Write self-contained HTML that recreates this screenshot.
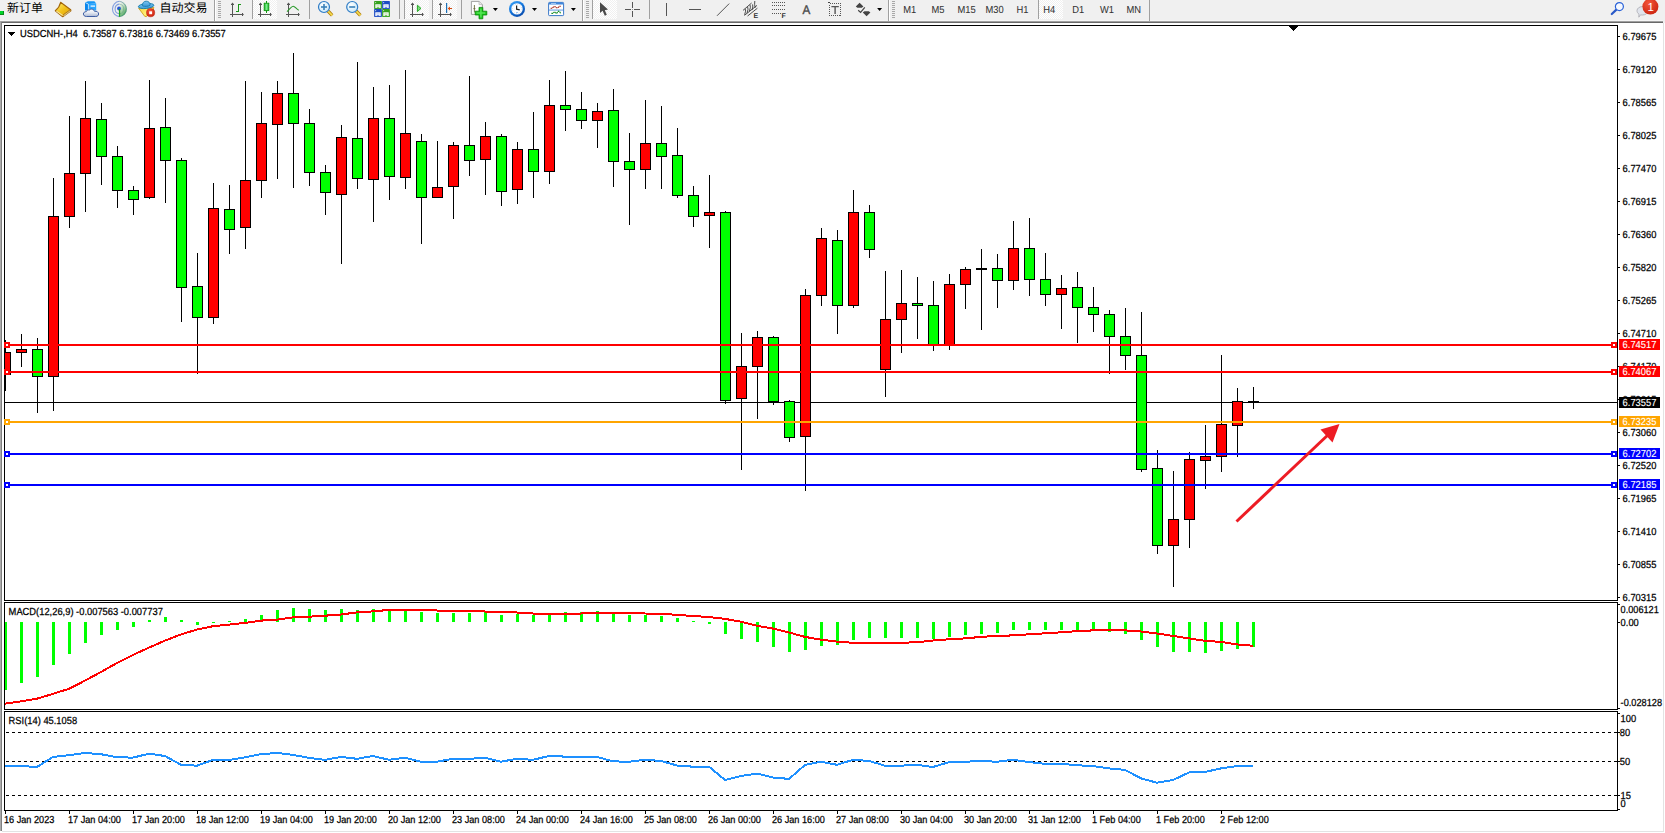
<!DOCTYPE html>
<html lang="zh-CN"><head><meta charset="utf-8"><title>USDCNH-,H4</title>
<style>
html,body{margin:0;padding:0;background:#fff;}
body{width:1665px;height:833px;overflow:hidden;}
svg{display:block;font-family:"Liberation Sans","Noto Sans CJK SC",sans-serif;}
text{white-space:pre;text-rendering:geometricPrecision;}
</style></head><body>
<svg width="1665" height="833" viewBox="0 0 1665 833">
<rect x="0" y="0" width="1665" height="833" fill="#fff"/>
<rect x="0" y="0" width="1665" height="21" fill="#f0f0f0"/>
<rect x="0" y="20" width="1663" height="1" fill="#f6f6f6"/>
<rect x="0" y="21" width="1663" height="1" fill="#a0a0a0"/>
<rect x="0" y="22" width="1663" height="1" fill="#696969"/>
<rect x="1663" y="21" width="2" height="2" fill="#f0f0f0"/>
<rect x="0" y="21" width="1" height="2" fill="#a8a8a8"/>
<rect x="1" y="22" width="1" height="1" fill="#808080"/>
<defs>
<pattern id="chk" width="2" height="2" patternUnits="userSpaceOnUse"><rect width="2" height="2" fill="#fff"/><rect width="1" height="1" fill="#f0f0f0"/><rect x="1" y="1" width="1" height="1" fill="#f0f0f0"/></pattern>
<linearGradient id="gYel" x1="0" y1="0" x2="1" y2="1"><stop offset="0" stop-color="#fff27a"/><stop offset=".5" stop-color="#f2c21a"/><stop offset="1" stop-color="#d99a0a"/></linearGradient>
<linearGradient id="gCloud" x1="0" y1="0" x2="0" y2="1"><stop offset="0" stop-color="#ffffff"/><stop offset=".5" stop-color="#e4e9f2"/><stop offset="1" stop-color="#aab8d4"/></linearGradient>
<linearGradient id="gBlue" x1="0" y1="0" x2="0" y2="1"><stop offset="0" stop-color="#1e9bf5"/><stop offset="1" stop-color="#0a7de0"/></linearGradient>
<radialGradient id="gLens" cx=".4" cy=".35" r=".7"><stop offset="0" stop-color="#ffffff"/><stop offset="1" stop-color="#c4e6f8"/></radialGradient>
<linearGradient id="gGold" x1="0" y1="0" x2="1" y2="0"><stop offset="0" stop-color="#f8e27a"/><stop offset="1" stop-color="#c99a10"/></linearGradient>
<radialGradient id="gRed" cx=".4" cy=".3" r=".8"><stop offset="0" stop-color="#f4553a"/><stop offset="1" stop-color="#c8200c"/></radialGradient>
<linearGradient id="gClock" x1=".2" y1="0" x2=".8" y2="1"><stop offset="0" stop-color="#3aa0f4"/><stop offset=".5" stop-color="#1070d8"/><stop offset="1" stop-color="#0a48a8"/></linearGradient>
<linearGradient id="gGreen" x1="0" y1="0" x2="1" y2="0"><stop offset="0" stop-color="#18b030"/><stop offset=".5" stop-color="#7af08a"/><stop offset="1" stop-color="#18b030"/></linearGradient>
<linearGradient id="gHat" x1="0" y1="0" x2="0" y2="1"><stop offset="0" stop-color="#7cc4f0"/><stop offset="1" stop-color="#3a9ad8"/></linearGradient>
<linearGradient id="gFace" x1="0" y1="0" x2="1" y2="1"><stop offset="0" stop-color="#f6d23a"/><stop offset=".6" stop-color="#fff27a"/><stop offset="1" stop-color="#e8b818"/></linearGradient>
<linearGradient id="gRad" x1="0" y1="0" x2=".6" y2="1"><stop offset="0" stop-color="#e8f2e8" stop-opacity=".2"/><stop offset=".55" stop-color="#8cc890" stop-opacity=".7"/><stop offset="1" stop-color="#2e9a3a" stop-opacity=".95"/></linearGradient>
</defs>
<rect x="0" y="11" width="4" height="4" fill="#00d428"/>
<rect x="0" y="14" width="4" height="1" fill="#0a8a1a"/>
<rect x="3" y="11" width="1" height="4" fill="#0a8a1a"/>
<text x="7" y="12" font-size="12" fill="#000">新订单</text>
<text x="159.5" y="12" font-size="12" fill="#000">自动交易</text>
<path d="M60.6 2.3C60 5.2 58 8.4 55.3 10.7L62.7 16.7L70.9 10.7L70.7 9.7Z" fill="url(#gYel)" stroke="#a3660a" stroke-width="1.1" stroke-linejoin="round"/>
<path d="M63.5 15.7L70.3 10.6" stroke="#d6c07e" stroke-width="1.3" fill="none"/>
<path d="M56.4 11.1L62.7 15.5" stroke="#f9e9a4" stroke-width="1.1" fill="none"/>
<path d="M62.9 15L70.5 9.6" stroke="#a3660a" stroke-width=".7" fill="none"/>
<path d="M85 2.4L88.4 4V10.4H85z" fill="#0a86ec"/><path d="M85 2.4L88 1.2H94.4L96.2 3.6 88.4 4z" fill="#1596f6"/><path d="M88.4 4L96.2 3.6V10.4H88.4z" fill="#2aa6ff"/>
<path d="M85.4 2.7L88.4 4.1V10" fill="none" stroke="#d4ecff" stroke-width=".7"/>
<rect x="90.6" y="5.5" width="4.4" height="1.2" fill="#fff"/>
<path d="M86.4 16.5C84.4 16.5 83.4 15.2 83.4 14C83.4 12.6 84.6 11.6 86.2 11.7C86.6 10.4 88 9.6 89.4 10C90.2 9 91.6 8.8 92.8 9.4C93.8 9.8 94.4 10.6 94.6 11.4C96.6 10.8 98.6 12 98.6 14C98.6 15.4 97.6 16.5 95.8 16.5z" fill="url(#gCloud)" stroke="#3f5fa4" stroke-width="1"/>
<g fill="none"><path d="M119.4 9V16.8A7.9 7.9 0 0 0 126.9 9A7.9 7.9 0 0 0 121 1.4z" fill="url(#gRad)" stroke="none"/><path d="M119.3 16.6A7.7 7.7 0 0 1 119.3 1.3" stroke="#5f86da" stroke-width="1.1" opacity=".75"/><path d="M119.3 13.8A4.9 4.9 0 0 1 119.3 4.1" stroke="#5f86da" stroke-width="1.1" opacity=".75"/><path d="M119.3 1.3A7.7 7.7 0 0 1 119.6 16.6" stroke="#3f7f8f" stroke-width="1" opacity=".55"/><path d="M119.3 4.1A4.9 4.9 0 0 1 119.6 13.8" stroke="#5f9a8a" stroke-width="1" opacity=".5"/></g>
<circle cx="119" cy="8.5" r="1.9" fill="#2a5ad0"/><rect x="118.9" y="9" width="1.3" height="7.8" fill="#1ea21e"/>
<path d="M138.6 8.2L153.8 7.4 153.2 10 146.4 16.6 144.8 16.4z" fill="url(#gFace)" stroke="#c8960e" stroke-width=".8" stroke-linejoin="round"/>
<ellipse cx="146.1" cy="6" rx="7.8" ry="2.5" transform="rotate(-6 146.1 6)" fill="url(#gHat)" stroke="#1a7eae" stroke-width=".9"/>
<path d="M142.4 5.8C142.4 2.8 143.8 1.2 146.2 1.2C148.6 1.2 150 2.6 150.2 5.2C148 6.6 144.6 6.8 142.4 5.8z" fill="url(#gHat)" stroke="#1a7eae" stroke-width=".9"/>
<circle cx="150.6" cy="12.7" r="4.1" fill="url(#gRed)" stroke="#b81c0a" stroke-width=".5"/><rect x="149.2" y="11.3" width="2.9" height="2.9" fill="#fff"/>
<rect x="214" y="0" width="1" height="21" fill="#a0a0a0" shape-rendering="crispEdges"/>
<rect x="215" y="0" width="1" height="21" fill="#ffffff" shape-rendering="crispEdges"/>
<rect x="218" y="1" width="3" height="1" fill="#a8a8a8" shape-rendering="crispEdges"/>
<rect x="218" y="3" width="3" height="1" fill="#a8a8a8" shape-rendering="crispEdges"/>
<rect x="218" y="5" width="3" height="1" fill="#a8a8a8" shape-rendering="crispEdges"/>
<rect x="218" y="7" width="3" height="1" fill="#a8a8a8" shape-rendering="crispEdges"/>
<rect x="218" y="9" width="3" height="1" fill="#a8a8a8" shape-rendering="crispEdges"/>
<rect x="218" y="11" width="3" height="1" fill="#a8a8a8" shape-rendering="crispEdges"/>
<rect x="218" y="13" width="3" height="1" fill="#a8a8a8" shape-rendering="crispEdges"/>
<rect x="218" y="15" width="3" height="1" fill="#a8a8a8" shape-rendering="crispEdges"/>
<rect x="218" y="17" width="3" height="1" fill="#a8a8a8" shape-rendering="crispEdges"/>
<g fill="#555" shape-rendering="crispEdges"><rect x="232" y="4" width="1" height="13"/><rect x="231" y="4" width="3" height="1"/><rect x="230" y="14" width="13" height="1"/><rect x="242" y="13" width="1" height="3"/></g><path d="M232.5 2.6l1.6 2h-3.2z M244 14.5l-2 1.6v-3.2z" fill="#555"/>
<path d="M236 11.5h2.5V4.5h2.5" fill="none" stroke="#1a961a" stroke-width="1.2" shape-rendering="crispEdges"/>
<rect x="252" y="0" width="1" height="19" fill="#a0a0a0" shape-rendering="crispEdges"/>
<rect x="253" y="0" width="24" height="19" fill="url(#chk)" shape-rendering="crispEdges"/>
<g fill="#555" shape-rendering="crispEdges"><rect x="260" y="4" width="1" height="13"/><rect x="259" y="4" width="3" height="1"/><rect x="258" y="14" width="13" height="1"/><rect x="270" y="13" width="1" height="3"/></g><path d="M260.5 2.6l1.6 2h-3.2z M272 14.5l-2 1.6v-3.2z" fill="#555"/>
<rect x="266" y="1" width="1" height="12" fill="#129a12" shape-rendering="crispEdges"/><rect x="264.2" y="3.2" width="4.6" height="7.4" fill="url(#gGreen)" stroke="#129a12" stroke-width=".9"/>
<g fill="#555" shape-rendering="crispEdges"><rect x="288" y="4" width="1" height="13"/><rect x="287" y="4" width="3" height="1"/><rect x="286" y="14" width="13" height="1"/><rect x="298" y="13" width="1" height="3"/></g><path d="M288.5 2.6l1.6 2h-3.2z M300 14.5l-2 1.6v-3.2z" fill="#555"/>
<path d="M287 11.6C290 9 291.4 6.2 293.2 6.2C295 6.2 296.4 9.4 298.8 10.2" fill="none" stroke="#2a9a2a" stroke-width="1.1"/>
<rect x="309" y="0" width="1" height="19" fill="#a0a0a0" shape-rendering="crispEdges"/>
<path d="M328 11L332.2 15.4" stroke="#b07a08" stroke-width="3.3" stroke-linecap="butt"/><path d="M328 11L332.2 15.4" stroke="#f4dc50" stroke-width="1.8" stroke-linecap="butt"/>
<circle cx="324" cy="7" r="5.5" fill="url(#gLens)" stroke="#2f7cc6" stroke-width="1.2"/>
<rect x="321" y="6.2" width="6" height="1.6" fill="#3a80b8"/>
<rect x="323.2" y="4" width="1.6" height="6" fill="#3a80b8"/>
<path d="M356.2 11L360.4 15.4" stroke="#b07a08" stroke-width="3.3" stroke-linecap="butt"/><path d="M356.2 11L360.4 15.4" stroke="#f4dc50" stroke-width="1.8" stroke-linecap="butt"/>
<circle cx="352.2" cy="7" r="5.5" fill="url(#gLens)" stroke="#2f7cc6" stroke-width="1.2"/>
<rect x="349.2" y="6.2" width="6" height="1.6" fill="#3a80b8"/>
<rect x="374.1" y="1.1" width="7.8" height="7.8" rx=".6" fill="#34a01c"/><rect x="375.3" y="4.300000000000001" width="5.4" height="3.8" fill="#fff"/><rect x="376.3" y="5.5" width="3.4" height=".9" fill="#a8d890"/><rect x="376.70000000000005" y="7.4" width="2.6" height=".8" fill="#34a01c"/><rect x="375.20000000000005" y="2.2" width=".9" height=".9" fill="#eef8ee"/>
<rect x="382.1" y="1.1" width="7.8" height="7.8" rx=".6" fill="#1c4cc4"/><rect x="383.3" y="4.300000000000001" width="5.4" height="3.8" fill="#fff"/><rect x="384.3" y="5.5" width="3.4" height=".9" fill="#9cb4f0"/><rect x="384.70000000000005" y="7.4" width="2.6" height=".8" fill="#1c4cc4"/><rect x="383.20000000000005" y="2.2" width=".9" height=".9" fill="#eef8ee"/>
<rect x="374.1" y="9.1" width="7.8" height="7.8" rx=".6" fill="#1c4cc4"/><rect x="375.3" y="12.3" width="5.4" height="3.8" fill="#fff"/><rect x="376.3" y="13.5" width="3.4" height=".9" fill="#9cb4f0"/><rect x="376.70000000000005" y="15.399999999999999" width="2.6" height=".8" fill="#1c4cc4"/><rect x="375.20000000000005" y="10.2" width=".9" height=".9" fill="#eef8ee"/>
<rect x="382.1" y="9.1" width="7.8" height="7.8" rx=".6" fill="#34a01c"/><rect x="383.3" y="12.3" width="5.4" height="3.8" fill="#fff"/><rect x="384.3" y="13.5" width="3.4" height=".9" fill="#a8d890"/><rect x="384.70000000000005" y="15.399999999999999" width="2.6" height=".8" fill="#34a01c"/><rect x="383.20000000000005" y="10.2" width=".9" height=".9" fill="#eef8ee"/>
<rect x="399" y="0" width="1" height="19" fill="#a0a0a0" shape-rendering="crispEdges"/>
<rect x="404" y="0" width="1" height="19" fill="#a0a0a0" shape-rendering="crispEdges"/>
<rect x="405" y="0" width="24" height="19" fill="url(#chk)" shape-rendering="crispEdges"/>
<g fill="#555" shape-rendering="crispEdges"><rect x="412" y="4" width="1" height="13"/><rect x="411" y="4" width="3" height="1"/><rect x="410" y="14" width="13" height="1"/><rect x="422" y="13" width="1" height="3"/></g><path d="M412.5 2.6l1.6 2h-3.2z M424 14.5l-2 1.6v-3.2z" fill="#555"/>
<path d="M417.4 5.2L421 8.4 417.4 11.6z" fill="#7ae07a" stroke="#18a018" stroke-width=".9"/>
<rect x="432" y="0" width="1" height="19" fill="#a0a0a0" shape-rendering="crispEdges"/>
<rect x="433" y="0" width="24" height="19" fill="url(#chk)" shape-rendering="crispEdges"/>
<g fill="#555" shape-rendering="crispEdges"><rect x="440" y="4" width="1" height="13"/><rect x="439" y="4" width="3" height="1"/><rect x="438" y="14" width="13" height="1"/><rect x="450" y="13" width="1" height="3"/></g><path d="M440.5 2.6l1.6 2h-3.2z M452 14.5l-2 1.6v-3.2z" fill="#555"/>
<rect x="446" y="3" width="1.2" height="10" fill="#1a70b8"/><path d="M448 8.5h4" stroke="#d04a10" stroke-width="1" fill="none"/><path d="M447.6 8.5l2.4-2v4z" fill="#e0500f"/>
<rect x="461" y="0" width="1" height="19" fill="#a0a0a0" shape-rendering="crispEdges"/>
<path d="M471.4 1.4H479L482.4 4.6V14.4H471.4z" fill="#fdfdfd" stroke="#8c8c8c" stroke-width=".8"/><path d="M479 1.4V4.6H482.4" fill="#e8e8e8" stroke="#a8a8a8" stroke-width=".6"/>
<path d="M474.4 5v7.4M473.4 8.6h2" stroke="#6a6a3a" stroke-width=".9" fill="none"/>
<path d="M479 7.4h3.8v3.8h4v3.8h-4v3.8H479V15h-3.8v-3.8H479z" fill="#14c014" stroke="#0a8a0a" stroke-width=".8"/>
<path d="M480.9 8.6v9M476.4 13.1h9" stroke="#62ec62" stroke-width="1.5" fill="none" opacity=".85"/>
<path d="M492.9 8h5l-2.5 3z" fill="#000"/>
<circle cx="517" cy="8.9" r="8" fill="url(#gClock)"/><circle cx="517" cy="8.9" r="5.7" fill="#fbfdff"/>
<circle cx="517" cy="8.9" r="4.7" fill="none" stroke="#b8c0c8" stroke-width="1" stroke-dasharray=".5 1.96"/>
<path d="M516.6 5.4V9.2L519.8 9.8" fill="none" stroke="#222" stroke-width="1.2"/>
<rect x="516" y="12.2" width="2" height=".8" fill="#8ab8f0"/>
<path d="M532.0 8h5l-2.5 3z" fill="#000"/>
<rect x="548.6" y="2.4" width="15" height="13.2" rx=".8" fill="#fff" stroke="#3a78c8" stroke-width="1"/><rect x="549" y="2.6" width="14.2" height="1.9" fill="#3f86dc"/><rect x="551" y="3" width="5" height=".7" fill="#c8e0fa"/><rect x="549" y="9.6" width="14.2" height=".9" fill="#4a8ee0"/>
<path d="M550.6 8.2h1.6l1.4-1.4h1.6l1.2 1h1.6l1.4-1.6h1.4" fill="none" stroke="#a41c0c" stroke-width="1.1" stroke-dasharray="1.6 .5"/>
<path d="M551.4 13.4h1.4l1.2-1h1.4l1 1.2 2-2.4 1.2.4 1.2 2" fill="none" stroke="#128a22" stroke-width="1.1" stroke-dasharray="1.6 .5"/>
<path d="M570.9 8h5l-2.5 3z" fill="#000"/>
<rect x="582" y="0" width="1" height="21" fill="#a0a0a0" shape-rendering="crispEdges"/>
<rect x="583" y="0" width="1" height="21" fill="#ffffff" shape-rendering="crispEdges"/>
<rect x="586" y="1" width="3" height="1" fill="#a8a8a8" shape-rendering="crispEdges"/>
<rect x="586" y="3" width="3" height="1" fill="#a8a8a8" shape-rendering="crispEdges"/>
<rect x="586" y="5" width="3" height="1" fill="#a8a8a8" shape-rendering="crispEdges"/>
<rect x="586" y="7" width="3" height="1" fill="#a8a8a8" shape-rendering="crispEdges"/>
<rect x="586" y="9" width="3" height="1" fill="#a8a8a8" shape-rendering="crispEdges"/>
<rect x="586" y="11" width="3" height="1" fill="#a8a8a8" shape-rendering="crispEdges"/>
<rect x="586" y="13" width="3" height="1" fill="#a8a8a8" shape-rendering="crispEdges"/>
<rect x="586" y="15" width="3" height="1" fill="#a8a8a8" shape-rendering="crispEdges"/>
<rect x="586" y="17" width="3" height="1" fill="#a8a8a8" shape-rendering="crispEdges"/>
<rect x="592" y="0" width="1" height="19" fill="#a0a0a0" shape-rendering="crispEdges"/>
<rect x="593" y="0" width="24" height="19" fill="url(#chk)" shape-rendering="crispEdges"/>
<path d="M600 2.2V13L602.6 10.8 604.8 15.8 606.8 14.8 604.8 10.2 608 9.6z" fill="#4a4a4a"/>
<g fill="#555" shape-rendering="crispEdges"><rect x="632" y="2" width="1" height="6"/><rect x="632" y="11" width="1" height="6"/><rect x="625" y="9" width="6" height="1"/><rect x="634" y="9" width="6" height="1"/><rect x="632" y="9" width="1" height="1" fill="#999"/></g>
<rect x="649" y="0" width="1" height="19" fill="#a0a0a0" shape-rendering="crispEdges"/>
<rect x="666" y="3" width="1" height="13" fill="#555" shape-rendering="crispEdges"/>
<rect x="689" y="9" width="12" height="1" fill="#555" shape-rendering="crispEdges"/>
<path d="M717 15.8L729.2 3.6" stroke="#555" stroke-width="1" fill="none"/>
<g stroke="#3c3c3c" stroke-width=".9" fill="none"><path d="M743 10.4L751.6 3M744.4 15.4L757 5.4M747.6 16L757.4 8.2"/><path d="M745.2 8.8l.4 2.4-1 3.6M747.6 6.8l.4 2.6-1 3.8M750 4.8l.4 2.6-1 3.8M752.6 4.4l.2 2.6-.8 3M754.8 1l-.2 3.4.6 3.4"/></g>
<text x="753.6" y="18" font-size="7" font-weight="bold" fill="#333">E</text>
<g stroke="#555" stroke-width="1" stroke-dasharray="1 1" shape-rendering="crispEdges"><path d="M772 2.5h13M772 5.5h13M772 9.5h13M772 13.5h9"/></g>
<text x="781.6" y="18" font-size="7" font-weight="bold" fill="#333">F</text>
<text x="802.6" y="14" font-size="12.4" fill="#4a4a4a" stroke="#4a4a4a" stroke-width=".4" transform="translate(802.6 0) scale(.94 1) translate(-802.6 0)">A</text>
<rect x="829.5" y="3.5" width="11" height="12" fill="none" stroke="#555" stroke-width="1" stroke-dasharray="1 1" shape-rendering="crispEdges"/><path d="M831.4 6.6h7.4M835.1 6.6v7.4" stroke="#555" stroke-width="1.4" fill="none"/><rect x="828" y="2" width="2" height="1" fill="#444"/>
<path d="M859.6 2.8L863.4 6.6 861.8 7.8H857.4L855.8 6.6z M866.6 16.2L862.8 12.4 864.4 11.2H868.8L870.4 12.4z" fill="#444"/><path d="M858.2 10.2L860.6 12.4 864.8 7.4" fill="none" stroke="#444" stroke-width="1.2"/>
<path d="M877.1 8h5l-2.5 3z" fill="#000"/>
<rect x="888" y="0" width="1" height="21" fill="#a0a0a0" shape-rendering="crispEdges"/>
<rect x="889" y="0" width="1" height="21" fill="#ffffff" shape-rendering="crispEdges"/>
<rect x="892" y="1" width="3" height="1" fill="#a8a8a8" shape-rendering="crispEdges"/>
<rect x="892" y="3" width="3" height="1" fill="#a8a8a8" shape-rendering="crispEdges"/>
<rect x="892" y="5" width="3" height="1" fill="#a8a8a8" shape-rendering="crispEdges"/>
<rect x="892" y="7" width="3" height="1" fill="#a8a8a8" shape-rendering="crispEdges"/>
<rect x="892" y="9" width="3" height="1" fill="#a8a8a8" shape-rendering="crispEdges"/>
<rect x="892" y="11" width="3" height="1" fill="#a8a8a8" shape-rendering="crispEdges"/>
<rect x="892" y="13" width="3" height="1" fill="#a8a8a8" shape-rendering="crispEdges"/>
<rect x="892" y="15" width="3" height="1" fill="#a8a8a8" shape-rendering="crispEdges"/>
<rect x="892" y="17" width="3" height="1" fill="#a8a8a8" shape-rendering="crispEdges"/>
<rect x="1038" y="0" width="1" height="19" fill="#a0a0a0" shape-rendering="crispEdges"/>
<rect x="1039" y="0" width="24" height="19" fill="url(#chk)" shape-rendering="crispEdges"/>
<rect x="1149" y="0" width="1" height="21" fill="#a0a0a0" shape-rendering="crispEdges"/>
<text transform="translate(903.2,13) scale(0.917,1)" font-size="10.2" fill="#333" stroke="#333" stroke-width="0.05" stroke-linejoin="round">M1</text>
<text transform="translate(931.4,13) scale(0.917,1)" font-size="10.2" fill="#333" stroke="#333" stroke-width="0.05" stroke-linejoin="round">M5</text>
<text transform="translate(957.4,13) scale(0.917,1)" font-size="10.2" fill="#333" stroke="#333" stroke-width="0.05" stroke-linejoin="round">M15</text>
<text transform="translate(985.4,13) scale(0.917,1)" font-size="10.2" fill="#333" stroke="#333" stroke-width="0.05" stroke-linejoin="round">M30</text>
<text transform="translate(1016.4,13) scale(0.917,1)" font-size="10.2" fill="#333" stroke="#333" stroke-width="0.05" stroke-linejoin="round">H1</text>
<text transform="translate(1043.3,13) scale(0.917,1)" font-size="10.2" fill="#333" stroke="#333" stroke-width="0.05" stroke-linejoin="round">H4</text>
<text transform="translate(1072.2,13) scale(0.917,1)" font-size="10.2" fill="#333" stroke="#333" stroke-width="0.05" stroke-linejoin="round">D1</text>
<text transform="translate(1100,13) scale(0.917,1)" font-size="10.2" fill="#333" stroke="#333" stroke-width="0.05" stroke-linejoin="round">W1</text>
<text transform="translate(1126.5,13) scale(0.917,1)" font-size="10.2" fill="#333" stroke="#333" stroke-width="0.05" stroke-linejoin="round">MN</text>
<path d="M1616.4 9.6L1611.8 14" stroke="#2a5ac8" stroke-width="2.2" stroke-linecap="round"/><circle cx="1619.4" cy="6.6" r="4" fill="#f4f8ff" stroke="#2a62d8" stroke-width="1.2"/>
<path d="M1637 10.6C1637 8.4 1639.4 6.6 1642.4 6.6C1645.6 6.6 1648 8.4 1648 10.8C1648 13.2 1645.6 15 1642.4 15C1641.8 15 1641.2 15 1640.6 14.8L1638.8 17.2 1639 14.2C1637.8 13.4 1637 12.2 1637 10.6z" fill="#e0e4ec" stroke="#a8a8b0" stroke-width=".8"/>
<circle cx="1650.4" cy="6.6" r="8" fill="url(#gRed)"/>
<text x="1647.4" y="11" font-size="11.5" fill="#fff">1</text>
<rect x="1663" y="0" width="2" height="21" fill="#f0f0f0"/>
<rect x="0" y="23" width="1" height="808" fill="#ababab"/>
<rect x="1" y="23" width="1" height="808" fill="#808080"/>
<rect x="1663" y="23" width="1" height="808" fill="#e3e3e3"/>
<rect x="2" y="831" width="1662" height="1" fill="#e3e3e3"/>
<g shape-rendering="crispEdges">
<rect x="5" y="402" width="1612" height="1" fill="#000"/>
<rect x="5" y="340" width="1" height="51" fill="#000"/>
<rect x="0" y="352" width="11" height="23" fill="#000"/>
<rect x="1" y="353" width="9" height="21" fill="#ff0000"/>
<rect x="21" y="334" width="1" height="33" fill="#000"/>
<rect x="16" y="349" width="11" height="4" fill="#000"/>
<rect x="17" y="350" width="9" height="2" fill="#ff0000"/>
<rect x="37" y="338" width="1" height="75" fill="#000"/>
<rect x="32" y="349" width="11" height="28" fill="#000"/>
<rect x="33" y="350" width="9" height="26" fill="#00ff00"/>
<rect x="53" y="178" width="1" height="233" fill="#000"/>
<rect x="48" y="216" width="11" height="161" fill="#000"/>
<rect x="49" y="217" width="9" height="159" fill="#ff0000"/>
<rect x="69" y="116" width="1" height="112" fill="#000"/>
<rect x="64" y="173" width="11" height="44" fill="#000"/>
<rect x="65" y="174" width="9" height="42" fill="#ff0000"/>
<rect x="85" y="81" width="1" height="131" fill="#000"/>
<rect x="80" y="118" width="11" height="56" fill="#000"/>
<rect x="81" y="119" width="9" height="54" fill="#ff0000"/>
<rect x="101" y="103" width="1" height="82" fill="#000"/>
<rect x="96" y="119" width="11" height="38" fill="#000"/>
<rect x="97" y="120" width="9" height="36" fill="#00ff00"/>
<rect x="117" y="146" width="1" height="62" fill="#000"/>
<rect x="112" y="156" width="11" height="35" fill="#000"/>
<rect x="113" y="157" width="9" height="33" fill="#00ff00"/>
<rect x="133" y="186" width="1" height="29" fill="#000"/>
<rect x="128" y="190" width="11" height="10" fill="#000"/>
<rect x="129" y="191" width="9" height="8" fill="#00ff00"/>
<rect x="149" y="80" width="1" height="119" fill="#000"/>
<rect x="144" y="128" width="11" height="70" fill="#000"/>
<rect x="145" y="129" width="9" height="68" fill="#ff0000"/>
<rect x="165" y="98" width="1" height="105" fill="#000"/>
<rect x="160" y="127" width="11" height="34" fill="#000"/>
<rect x="161" y="128" width="9" height="32" fill="#00ff00"/>
<rect x="181" y="158" width="1" height="164" fill="#000"/>
<rect x="176" y="160" width="11" height="128" fill="#000"/>
<rect x="177" y="161" width="9" height="126" fill="#00ff00"/>
<rect x="197" y="253" width="1" height="121" fill="#000"/>
<rect x="192" y="286" width="11" height="32" fill="#000"/>
<rect x="193" y="287" width="9" height="30" fill="#00ff00"/>
<rect x="213" y="183" width="1" height="141" fill="#000"/>
<rect x="208" y="208" width="11" height="110" fill="#000"/>
<rect x="209" y="209" width="9" height="108" fill="#ff0000"/>
<rect x="229" y="185" width="1" height="69" fill="#000"/>
<rect x="224" y="209" width="11" height="21" fill="#000"/>
<rect x="225" y="210" width="9" height="19" fill="#00ff00"/>
<rect x="245" y="81" width="1" height="168" fill="#000"/>
<rect x="240" y="180" width="11" height="48" fill="#000"/>
<rect x="241" y="181" width="9" height="46" fill="#ff0000"/>
<rect x="261" y="92" width="1" height="106" fill="#000"/>
<rect x="256" y="123" width="11" height="58" fill="#000"/>
<rect x="257" y="124" width="9" height="56" fill="#ff0000"/>
<rect x="277" y="81" width="1" height="98" fill="#000"/>
<rect x="272" y="93" width="11" height="32" fill="#000"/>
<rect x="273" y="94" width="9" height="30" fill="#ff0000"/>
<rect x="293" y="53" width="1" height="135" fill="#000"/>
<rect x="288" y="93" width="11" height="31" fill="#000"/>
<rect x="289" y="94" width="9" height="29" fill="#00ff00"/>
<rect x="309" y="109" width="1" height="77" fill="#000"/>
<rect x="304" y="123" width="11" height="50" fill="#000"/>
<rect x="305" y="124" width="9" height="48" fill="#00ff00"/>
<rect x="325" y="165" width="1" height="50" fill="#000"/>
<rect x="320" y="172" width="11" height="21" fill="#000"/>
<rect x="321" y="173" width="9" height="19" fill="#00ff00"/>
<rect x="341" y="125" width="1" height="139" fill="#000"/>
<rect x="336" y="137" width="11" height="58" fill="#000"/>
<rect x="337" y="138" width="9" height="56" fill="#ff0000"/>
<rect x="357" y="62" width="1" height="127" fill="#000"/>
<rect x="352" y="138" width="11" height="41" fill="#000"/>
<rect x="353" y="139" width="9" height="39" fill="#00ff00"/>
<rect x="373" y="87" width="1" height="135" fill="#000"/>
<rect x="368" y="118" width="11" height="62" fill="#000"/>
<rect x="369" y="119" width="9" height="60" fill="#ff0000"/>
<rect x="389" y="85" width="1" height="115" fill="#000"/>
<rect x="384" y="118" width="11" height="59" fill="#000"/>
<rect x="385" y="119" width="9" height="57" fill="#00ff00"/>
<rect x="405" y="70" width="1" height="119" fill="#000"/>
<rect x="400" y="133" width="11" height="45" fill="#000"/>
<rect x="401" y="134" width="9" height="43" fill="#ff0000"/>
<rect x="421" y="134" width="1" height="110" fill="#000"/>
<rect x="416" y="141" width="11" height="57" fill="#000"/>
<rect x="417" y="142" width="9" height="55" fill="#00ff00"/>
<rect x="437" y="141" width="1" height="57" fill="#000"/>
<rect x="432" y="187" width="11" height="11" fill="#000"/>
<rect x="433" y="188" width="9" height="9" fill="#ff0000"/>
<rect x="453" y="142" width="1" height="77" fill="#000"/>
<rect x="448" y="145" width="11" height="42" fill="#000"/>
<rect x="449" y="146" width="9" height="40" fill="#ff0000"/>
<rect x="469" y="76" width="1" height="100" fill="#000"/>
<rect x="464" y="145" width="11" height="16" fill="#000"/>
<rect x="465" y="146" width="9" height="14" fill="#00ff00"/>
<rect x="485" y="122" width="1" height="73" fill="#000"/>
<rect x="480" y="136" width="11" height="24" fill="#000"/>
<rect x="481" y="137" width="9" height="22" fill="#ff0000"/>
<rect x="501" y="134" width="1" height="72" fill="#000"/>
<rect x="496" y="136" width="11" height="56" fill="#000"/>
<rect x="497" y="137" width="9" height="54" fill="#00ff00"/>
<rect x="517" y="142" width="1" height="62" fill="#000"/>
<rect x="512" y="149" width="11" height="41" fill="#000"/>
<rect x="513" y="150" width="9" height="39" fill="#ff0000"/>
<rect x="533" y="112" width="1" height="86" fill="#000"/>
<rect x="528" y="149" width="11" height="23" fill="#000"/>
<rect x="529" y="150" width="9" height="21" fill="#00ff00"/>
<rect x="549" y="80" width="1" height="104" fill="#000"/>
<rect x="544" y="105" width="11" height="67" fill="#000"/>
<rect x="545" y="106" width="9" height="65" fill="#ff0000"/>
<rect x="565" y="71" width="1" height="60" fill="#000"/>
<rect x="560" y="105" width="11" height="5" fill="#000"/>
<rect x="561" y="106" width="9" height="3" fill="#00ff00"/>
<rect x="581" y="92" width="1" height="37" fill="#000"/>
<rect x="576" y="109" width="11" height="12" fill="#000"/>
<rect x="577" y="110" width="9" height="10" fill="#00ff00"/>
<rect x="597" y="103" width="1" height="45" fill="#000"/>
<rect x="592" y="111" width="11" height="10" fill="#000"/>
<rect x="593" y="112" width="9" height="8" fill="#ff0000"/>
<rect x="613" y="89" width="1" height="98" fill="#000"/>
<rect x="608" y="110" width="11" height="52" fill="#000"/>
<rect x="609" y="111" width="9" height="50" fill="#00ff00"/>
<rect x="629" y="133" width="1" height="92" fill="#000"/>
<rect x="624" y="161" width="11" height="9" fill="#000"/>
<rect x="625" y="162" width="9" height="7" fill="#00ff00"/>
<rect x="645" y="100" width="1" height="89" fill="#000"/>
<rect x="640" y="143" width="11" height="27" fill="#000"/>
<rect x="641" y="144" width="9" height="25" fill="#ff0000"/>
<rect x="661" y="106" width="1" height="83" fill="#000"/>
<rect x="656" y="143" width="11" height="14" fill="#000"/>
<rect x="657" y="144" width="9" height="12" fill="#00ff00"/>
<rect x="677" y="128" width="1" height="70" fill="#000"/>
<rect x="672" y="155" width="11" height="41" fill="#000"/>
<rect x="673" y="156" width="9" height="39" fill="#00ff00"/>
<rect x="693" y="186" width="1" height="41" fill="#000"/>
<rect x="688" y="195" width="11" height="22" fill="#000"/>
<rect x="689" y="196" width="9" height="20" fill="#00ff00"/>
<rect x="709" y="175" width="1" height="73" fill="#000"/>
<rect x="704" y="212" width="11" height="4" fill="#000"/>
<rect x="705" y="213" width="9" height="2" fill="#ff0000"/>
<rect x="725" y="211" width="1" height="193" fill="#000"/>
<rect x="720" y="212" width="11" height="189" fill="#000"/>
<rect x="721" y="213" width="9" height="187" fill="#00ff00"/>
<rect x="741" y="333" width="1" height="137" fill="#000"/>
<rect x="736" y="366" width="11" height="33" fill="#000"/>
<rect x="737" y="367" width="9" height="31" fill="#ff0000"/>
<rect x="757" y="331" width="1" height="88" fill="#000"/>
<rect x="752" y="337" width="11" height="30" fill="#000"/>
<rect x="753" y="338" width="9" height="28" fill="#ff0000"/>
<rect x="773" y="336" width="1" height="69" fill="#000"/>
<rect x="768" y="337" width="11" height="65" fill="#000"/>
<rect x="769" y="338" width="9" height="63" fill="#00ff00"/>
<rect x="789" y="400" width="1" height="42" fill="#000"/>
<rect x="784" y="401" width="11" height="37" fill="#000"/>
<rect x="785" y="402" width="9" height="35" fill="#00ff00"/>
<rect x="805" y="289" width="1" height="202" fill="#000"/>
<rect x="800" y="295" width="11" height="142" fill="#000"/>
<rect x="801" y="296" width="9" height="140" fill="#ff0000"/>
<rect x="821" y="228" width="1" height="78" fill="#000"/>
<rect x="816" y="238" width="11" height="58" fill="#000"/>
<rect x="817" y="239" width="9" height="56" fill="#ff0000"/>
<rect x="837" y="230" width="1" height="104" fill="#000"/>
<rect x="832" y="240" width="11" height="66" fill="#000"/>
<rect x="833" y="241" width="9" height="64" fill="#00ff00"/>
<rect x="853" y="190" width="1" height="118" fill="#000"/>
<rect x="848" y="212" width="11" height="94" fill="#000"/>
<rect x="849" y="213" width="9" height="92" fill="#ff0000"/>
<rect x="869" y="205" width="1" height="53" fill="#000"/>
<rect x="864" y="212" width="11" height="38" fill="#000"/>
<rect x="865" y="213" width="9" height="36" fill="#00ff00"/>
<rect x="885" y="271" width="1" height="126" fill="#000"/>
<rect x="880" y="319" width="11" height="51" fill="#000"/>
<rect x="881" y="320" width="9" height="49" fill="#ff0000"/>
<rect x="901" y="270" width="1" height="83" fill="#000"/>
<rect x="896" y="303" width="11" height="17" fill="#000"/>
<rect x="897" y="304" width="9" height="15" fill="#ff0000"/>
<rect x="917" y="277" width="1" height="62" fill="#000"/>
<rect x="912" y="303" width="11" height="3" fill="#000"/>
<rect x="913" y="304" width="9" height="1" fill="#00ff00"/>
<rect x="933" y="281" width="1" height="70" fill="#000"/>
<rect x="928" y="305" width="11" height="41" fill="#000"/>
<rect x="929" y="306" width="9" height="39" fill="#00ff00"/>
<rect x="949" y="274" width="1" height="76" fill="#000"/>
<rect x="944" y="284" width="11" height="62" fill="#000"/>
<rect x="945" y="285" width="9" height="60" fill="#ff0000"/>
<rect x="965" y="267" width="1" height="42" fill="#000"/>
<rect x="960" y="269" width="11" height="16" fill="#000"/>
<rect x="961" y="270" width="9" height="14" fill="#ff0000"/>
<rect x="981" y="249" width="1" height="81" fill="#000"/>
<rect x="976" y="268" width="11" height="2" fill="#000"/>
<rect x="997" y="254" width="1" height="54" fill="#000"/>
<rect x="992" y="268" width="11" height="13" fill="#000"/>
<rect x="993" y="269" width="9" height="11" fill="#00ff00"/>
<rect x="1013" y="221" width="1" height="69" fill="#000"/>
<rect x="1008" y="248" width="11" height="33" fill="#000"/>
<rect x="1009" y="249" width="9" height="31" fill="#ff0000"/>
<rect x="1029" y="218" width="1" height="78" fill="#000"/>
<rect x="1024" y="248" width="11" height="32" fill="#000"/>
<rect x="1025" y="249" width="9" height="30" fill="#00ff00"/>
<rect x="1045" y="253" width="1" height="53" fill="#000"/>
<rect x="1040" y="279" width="11" height="16" fill="#000"/>
<rect x="1041" y="280" width="9" height="14" fill="#00ff00"/>
<rect x="1061" y="275" width="1" height="54" fill="#000"/>
<rect x="1056" y="288" width="11" height="7" fill="#000"/>
<rect x="1057" y="289" width="9" height="5" fill="#ff0000"/>
<rect x="1077" y="272" width="1" height="71" fill="#000"/>
<rect x="1072" y="287" width="11" height="21" fill="#000"/>
<rect x="1073" y="288" width="9" height="19" fill="#00ff00"/>
<rect x="1093" y="287" width="1" height="45" fill="#000"/>
<rect x="1088" y="307" width="11" height="8" fill="#000"/>
<rect x="1089" y="308" width="9" height="6" fill="#00ff00"/>
<rect x="1109" y="310" width="1" height="64" fill="#000"/>
<rect x="1104" y="314" width="11" height="23" fill="#000"/>
<rect x="1105" y="315" width="9" height="21" fill="#00ff00"/>
<rect x="1125" y="308" width="1" height="62" fill="#000"/>
<rect x="1120" y="336" width="11" height="20" fill="#000"/>
<rect x="1121" y="337" width="9" height="18" fill="#00ff00"/>
<rect x="1141" y="312" width="1" height="160" fill="#000"/>
<rect x="1136" y="355" width="11" height="115" fill="#000"/>
<rect x="1137" y="356" width="9" height="113" fill="#00ff00"/>
<rect x="1157" y="450" width="1" height="104" fill="#000"/>
<rect x="1152" y="468" width="11" height="78" fill="#000"/>
<rect x="1153" y="469" width="9" height="76" fill="#00ff00"/>
<rect x="1173" y="471" width="1" height="116" fill="#000"/>
<rect x="1168" y="519" width="11" height="27" fill="#000"/>
<rect x="1169" y="520" width="9" height="25" fill="#ff0000"/>
<rect x="1189" y="452" width="1" height="96" fill="#000"/>
<rect x="1184" y="459" width="11" height="61" fill="#000"/>
<rect x="1185" y="460" width="9" height="59" fill="#ff0000"/>
<rect x="1205" y="425" width="1" height="64" fill="#000"/>
<rect x="1200" y="456" width="11" height="5" fill="#000"/>
<rect x="1201" y="457" width="9" height="3" fill="#ff0000"/>
<rect x="1221" y="355" width="1" height="117" fill="#000"/>
<rect x="1216" y="424" width="11" height="33" fill="#000"/>
<rect x="1217" y="425" width="9" height="31" fill="#ff0000"/>
<rect x="1237" y="388" width="1" height="69" fill="#000"/>
<rect x="1232" y="401" width="11" height="25" fill="#000"/>
<rect x="1233" y="402" width="9" height="23" fill="#ff0000"/>
<rect x="1253" y="387" width="1" height="22" fill="#000"/>
<rect x="1248" y="401" width="11" height="1" fill="#000"/>
<rect x="2" y="26" width="2" height="575" fill="#fff"/>
<rect x="0" y="26" width="1" height="575" fill="#ababab"/>
<rect x="1" y="26" width="1" height="575" fill="#808080"/>
<rect x="4" y="25" width="1614" height="1" fill="#000"/>
<rect x="4" y="600" width="1614" height="1" fill="#000"/>
<rect x="4" y="25" width="1" height="576" fill="#000"/>
<rect x="1617" y="25" width="1" height="576" fill="#000"/>
<rect x="4" y="602" width="1614" height="1" fill="#000"/>
<rect x="4" y="709" width="1614" height="1" fill="#000"/>
<rect x="4" y="602" width="1" height="108" fill="#000"/>
<rect x="1617" y="602" width="1" height="108" fill="#000"/>
<rect x="4" y="711" width="1614" height="1" fill="#000"/>
<rect x="4" y="810" width="1614" height="1" fill="#000"/>
<rect x="4" y="711" width="1" height="100" fill="#000"/>
<rect x="1617" y="711" width="1" height="100" fill="#000"/>
<rect x="1289" y="26" width="9" height="1" fill="#000"/>
<rect x="1290" y="27" width="7" height="1" fill="#000"/>
<rect x="1291" y="28" width="5" height="1" fill="#000"/>
<rect x="1292" y="29" width="3" height="1" fill="#000"/>
<rect x="1293" y="30" width="1" height="1" fill="#000"/>
</g>
<rect x="1618" y="36" width="2" height="1" fill="#000" shape-rendering="crispEdges"/>
<text transform="translate(1622.6,40) scale(0.917,1)" font-size="10.2" fill="#000" stroke="#000" stroke-width="0.25" stroke-linejoin="round">6.79675</text>
<rect x="1618" y="69" width="2" height="1" fill="#000" shape-rendering="crispEdges"/>
<text transform="translate(1622.6,73) scale(0.917,1)" font-size="10.2" fill="#000" stroke="#000" stroke-width="0.25" stroke-linejoin="round">6.79120</text>
<rect x="1618" y="102" width="2" height="1" fill="#000" shape-rendering="crispEdges"/>
<text transform="translate(1622.6,106) scale(0.917,1)" font-size="10.2" fill="#000" stroke="#000" stroke-width="0.25" stroke-linejoin="round">6.78565</text>
<rect x="1618" y="135" width="2" height="1" fill="#000" shape-rendering="crispEdges"/>
<text transform="translate(1622.6,139) scale(0.917,1)" font-size="10.2" fill="#000" stroke="#000" stroke-width="0.25" stroke-linejoin="round">6.78025</text>
<rect x="1618" y="168" width="2" height="1" fill="#000" shape-rendering="crispEdges"/>
<text transform="translate(1622.6,172) scale(0.917,1)" font-size="10.2" fill="#000" stroke="#000" stroke-width="0.25" stroke-linejoin="round">6.77470</text>
<rect x="1618" y="201" width="2" height="1" fill="#000" shape-rendering="crispEdges"/>
<text transform="translate(1622.6,205) scale(0.917,1)" font-size="10.2" fill="#000" stroke="#000" stroke-width="0.25" stroke-linejoin="round">6.76915</text>
<rect x="1618" y="234" width="2" height="1" fill="#000" shape-rendering="crispEdges"/>
<text transform="translate(1622.6,238) scale(0.917,1)" font-size="10.2" fill="#000" stroke="#000" stroke-width="0.25" stroke-linejoin="round">6.76360</text>
<rect x="1618" y="267" width="2" height="1" fill="#000" shape-rendering="crispEdges"/>
<text transform="translate(1622.6,271) scale(0.917,1)" font-size="10.2" fill="#000" stroke="#000" stroke-width="0.25" stroke-linejoin="round">6.75820</text>
<rect x="1618" y="300" width="2" height="1" fill="#000" shape-rendering="crispEdges"/>
<text transform="translate(1622.6,304) scale(0.917,1)" font-size="10.2" fill="#000" stroke="#000" stroke-width="0.25" stroke-linejoin="round">6.75265</text>
<rect x="1618" y="333" width="2" height="1" fill="#000" shape-rendering="crispEdges"/>
<text transform="translate(1622.6,337) scale(0.917,1)" font-size="10.2" fill="#000" stroke="#000" stroke-width="0.25" stroke-linejoin="round">6.74710</text>
<rect x="1618" y="366" width="2" height="1" fill="#000" shape-rendering="crispEdges"/>
<text transform="translate(1622.6,370) scale(0.917,1)" font-size="10.2" fill="#000" stroke="#000" stroke-width="0.25" stroke-linejoin="round">6.74170</text>
<rect x="1618" y="399" width="2" height="1" fill="#000" shape-rendering="crispEdges"/>
<text transform="translate(1622.6,403) scale(0.917,1)" font-size="10.2" fill="#000" stroke="#000" stroke-width="0.25" stroke-linejoin="round">6.73615</text>
<rect x="1618" y="432" width="2" height="1" fill="#000" shape-rendering="crispEdges"/>
<text transform="translate(1622.6,436) scale(0.917,1)" font-size="10.2" fill="#000" stroke="#000" stroke-width="0.25" stroke-linejoin="round">6.73060</text>
<rect x="1618" y="465" width="2" height="1" fill="#000" shape-rendering="crispEdges"/>
<text transform="translate(1622.6,469) scale(0.917,1)" font-size="10.2" fill="#000" stroke="#000" stroke-width="0.25" stroke-linejoin="round">6.72520</text>
<rect x="1618" y="498" width="2" height="1" fill="#000" shape-rendering="crispEdges"/>
<text transform="translate(1622.6,502) scale(0.917,1)" font-size="10.2" fill="#000" stroke="#000" stroke-width="0.25" stroke-linejoin="round">6.71965</text>
<rect x="1618" y="531" width="2" height="1" fill="#000" shape-rendering="crispEdges"/>
<text transform="translate(1622.6,535) scale(0.917,1)" font-size="10.2" fill="#000" stroke="#000" stroke-width="0.25" stroke-linejoin="round">6.71410</text>
<rect x="1618" y="564" width="2" height="1" fill="#000" shape-rendering="crispEdges"/>
<text transform="translate(1622.6,568) scale(0.917,1)" font-size="10.2" fill="#000" stroke="#000" stroke-width="0.25" stroke-linejoin="round">6.70855</text>
<rect x="1618" y="597" width="2" height="1" fill="#000" shape-rendering="crispEdges"/>
<text transform="translate(1622.6,601) scale(0.917,1)" font-size="10.2" fill="#000" stroke="#000" stroke-width="0.25" stroke-linejoin="round">6.70315</text>
<g shape-rendering="crispEdges">
<rect x="5" y="344" width="1612" height="2" fill="#ff0000"/>
<rect x="4" y="342" width="6" height="6" fill="#ff0000"/>
<rect x="6" y="344" width="2" height="2" fill="#fff"/>
<rect x="1611" y="342" width="6" height="6" fill="#ff0000"/>
<rect x="1613" y="344" width="2" height="2" fill="#fff"/>
<rect x="1619" y="339" width="41" height="11" fill="#ff0000"/>
<rect x="5" y="371" width="1612" height="2" fill="#ff0000"/>
<rect x="4" y="369" width="6" height="6" fill="#ff0000"/>
<rect x="6" y="371" width="2" height="2" fill="#fff"/>
<rect x="1611" y="369" width="6" height="6" fill="#ff0000"/>
<rect x="1613" y="371" width="2" height="2" fill="#fff"/>
<rect x="1619" y="366" width="41" height="11" fill="#ff0000"/>
<rect x="5" y="421" width="1612" height="2" fill="#ffa500"/>
<rect x="4" y="419" width="6" height="6" fill="#ffa500"/>
<rect x="6" y="421" width="2" height="2" fill="#fff"/>
<rect x="1611" y="419" width="6" height="6" fill="#ffa500"/>
<rect x="1613" y="421" width="2" height="2" fill="#fff"/>
<rect x="1619" y="416" width="41" height="11" fill="#ffa500"/>
<rect x="5" y="453" width="1612" height="2" fill="#0000ff"/>
<rect x="4" y="451" width="6" height="6" fill="#0000ff"/>
<rect x="6" y="453" width="2" height="2" fill="#fff"/>
<rect x="1611" y="451" width="6" height="6" fill="#0000ff"/>
<rect x="1613" y="453" width="2" height="2" fill="#fff"/>
<rect x="1619" y="448" width="41" height="11" fill="#0000ff"/>
<rect x="5" y="484" width="1612" height="2" fill="#0000ff"/>
<rect x="4" y="482" width="6" height="6" fill="#0000ff"/>
<rect x="6" y="484" width="2" height="2" fill="#fff"/>
<rect x="1611" y="482" width="6" height="6" fill="#0000ff"/>
<rect x="1613" y="484" width="2" height="2" fill="#fff"/>
<rect x="1619" y="479" width="41" height="11" fill="#0000ff"/>
<rect x="1619" y="397" width="41" height="11" fill="#000"/>
</g>
<text transform="translate(1622.6,348) scale(0.917,1)" font-size="10.2" fill="#fff" stroke="#fff" stroke-width="0.12" stroke-linejoin="round">6.74517</text>
<text transform="translate(1622.6,375) scale(0.917,1)" font-size="10.2" fill="#fff" stroke="#fff" stroke-width="0.12" stroke-linejoin="round">6.74067</text>
<text transform="translate(1622.6,425) scale(0.917,1)" font-size="10.2" fill="#fff" stroke="#fff" stroke-width="0.12" stroke-linejoin="round">6.73235</text>
<text transform="translate(1622.6,457) scale(0.917,1)" font-size="10.2" fill="#fff" stroke="#fff" stroke-width="0.12" stroke-linejoin="round">6.72702</text>
<text transform="translate(1622.6,488) scale(0.917,1)" font-size="10.2" fill="#fff" stroke="#fff" stroke-width="0.12" stroke-linejoin="round">6.72185</text>
<text transform="translate(1622.6,406) scale(0.917,1)" font-size="10.2" fill="#fff" stroke="#fff" stroke-width="0.12" stroke-linejoin="round">6.73557</text>
<rect x="8" y="32" width="7" height="1" fill="#000" shape-rendering="crispEdges"/>
<rect x="9" y="33" width="5" height="1" fill="#000" shape-rendering="crispEdges"/>
<rect x="10" y="34" width="3" height="1" fill="#000" shape-rendering="crispEdges"/>
<rect x="11" y="35" width="1" height="1" fill="#000" shape-rendering="crispEdges"/>
<text transform="translate(20.1,37) scale(0.917,1)" font-size="10.2" fill="#000" stroke="#000" stroke-width="0.25" stroke-linejoin="round" xml:space="preserve">USDCNH-,H4  6.73587 6.73816 6.73469 6.73557</text>
<g shape-rendering="crispEdges">
<rect x="4" y="622" width="3" height="68" fill="#00ff00"/>
<rect x="20" y="622" width="3" height="61" fill="#00ff00"/>
<rect x="36" y="622" width="3" height="55" fill="#00ff00"/>
<rect x="52" y="622" width="3" height="43" fill="#00ff00"/>
<rect x="68" y="622" width="3" height="32" fill="#00ff00"/>
<rect x="84" y="622" width="3" height="21" fill="#00ff00"/>
<rect x="100" y="622" width="3" height="13" fill="#00ff00"/>
<rect x="116" y="622" width="3" height="8" fill="#00ff00"/>
<rect x="132" y="622" width="3" height="5" fill="#00ff00"/>
<rect x="148" y="620" width="3" height="2" fill="#00ff00"/>
<rect x="164" y="617" width="3" height="5" fill="#00ff00"/>
<rect x="180" y="620" width="3" height="2" fill="#00ff00"/>
<rect x="196" y="622" width="3" height="3" fill="#00ff00"/>
<rect x="212" y="622" width="3" height="1" fill="#00ff00"/>
<rect x="228" y="621" width="3" height="1" fill="#00ff00"/>
<rect x="244" y="619" width="3" height="3" fill="#00ff00"/>
<rect x="260" y="615" width="3" height="7" fill="#00ff00"/>
<rect x="276" y="610" width="3" height="12" fill="#00ff00"/>
<rect x="292" y="608" width="3" height="14" fill="#00ff00"/>
<rect x="308" y="609" width="3" height="13" fill="#00ff00"/>
<rect x="324" y="610" width="3" height="12" fill="#00ff00"/>
<rect x="340" y="609" width="3" height="13" fill="#00ff00"/>
<rect x="356" y="610" width="3" height="12" fill="#00ff00"/>
<rect x="372" y="609" width="3" height="13" fill="#00ff00"/>
<rect x="388" y="611" width="3" height="11" fill="#00ff00"/>
<rect x="404" y="611" width="3" height="11" fill="#00ff00"/>
<rect x="420" y="612" width="3" height="10" fill="#00ff00"/>
<rect x="436" y="613" width="3" height="9" fill="#00ff00"/>
<rect x="452" y="613" width="3" height="9" fill="#00ff00"/>
<rect x="468" y="613" width="3" height="9" fill="#00ff00"/>
<rect x="484" y="612" width="3" height="10" fill="#00ff00"/>
<rect x="500" y="615" width="3" height="7" fill="#00ff00"/>
<rect x="516" y="614" width="3" height="8" fill="#00ff00"/>
<rect x="532" y="615" width="3" height="7" fill="#00ff00"/>
<rect x="548" y="614" width="3" height="8" fill="#00ff00"/>
<rect x="564" y="612" width="3" height="10" fill="#00ff00"/>
<rect x="580" y="612" width="3" height="10" fill="#00ff00"/>
<rect x="596" y="611" width="3" height="11" fill="#00ff00"/>
<rect x="612" y="614" width="3" height="8" fill="#00ff00"/>
<rect x="628" y="615" width="3" height="7" fill="#00ff00"/>
<rect x="644" y="615" width="3" height="7" fill="#00ff00"/>
<rect x="660" y="616" width="3" height="6" fill="#00ff00"/>
<rect x="676" y="618" width="3" height="4" fill="#00ff00"/>
<rect x="692" y="621" width="3" height="1" fill="#00ff00"/>
<rect x="708" y="622" width="3" height="2" fill="#00ff00"/>
<rect x="724" y="622" width="3" height="12" fill="#00ff00"/>
<rect x="740" y="622" width="3" height="17" fill="#00ff00"/>
<rect x="756" y="622" width="3" height="20" fill="#00ff00"/>
<rect x="772" y="622" width="3" height="25" fill="#00ff00"/>
<rect x="788" y="622" width="3" height="30" fill="#00ff00"/>
<rect x="804" y="622" width="3" height="28" fill="#00ff00"/>
<rect x="820" y="622" width="3" height="24" fill="#00ff00"/>
<rect x="836" y="622" width="3" height="23" fill="#00ff00"/>
<rect x="852" y="622" width="3" height="18" fill="#00ff00"/>
<rect x="868" y="622" width="3" height="16" fill="#00ff00"/>
<rect x="884" y="622" width="3" height="16" fill="#00ff00"/>
<rect x="900" y="622" width="3" height="16" fill="#00ff00"/>
<rect x="916" y="622" width="3" height="16" fill="#00ff00"/>
<rect x="932" y="622" width="3" height="17" fill="#00ff00"/>
<rect x="948" y="622" width="3" height="15" fill="#00ff00"/>
<rect x="964" y="622" width="3" height="13" fill="#00ff00"/>
<rect x="980" y="622" width="3" height="12" fill="#00ff00"/>
<rect x="996" y="622" width="3" height="11" fill="#00ff00"/>
<rect x="1012" y="622" width="3" height="8" fill="#00ff00"/>
<rect x="1028" y="622" width="3" height="8" fill="#00ff00"/>
<rect x="1044" y="622" width="3" height="8" fill="#00ff00"/>
<rect x="1060" y="622" width="3" height="8" fill="#00ff00"/>
<rect x="1076" y="622" width="3" height="8" fill="#00ff00"/>
<rect x="1092" y="622" width="3" height="8" fill="#00ff00"/>
<rect x="1108" y="622" width="3" height="10" fill="#00ff00"/>
<rect x="1124" y="622" width="3" height="12" fill="#00ff00"/>
<rect x="1140" y="622" width="3" height="18" fill="#00ff00"/>
<rect x="1156" y="622" width="3" height="25" fill="#00ff00"/>
<rect x="1172" y="622" width="3" height="30" fill="#00ff00"/>
<rect x="1188" y="622" width="3" height="30" fill="#00ff00"/>
<rect x="1204" y="622" width="3" height="31" fill="#00ff00"/>
<rect x="1220" y="622" width="3" height="29" fill="#00ff00"/>
<rect x="1236" y="622" width="3" height="27" fill="#00ff00"/>
<rect x="1252" y="622" width="3" height="25" fill="#00ff00"/>
<polyline points="5,703.7 21,701.4 37,698.7 53,693.8 69,688.8 85,680.6 101,672.0 117,663.0 133,654.9 149,647.6 165,640.6 181,634.4 197,629.5 213,626.2 229,624.6 245,622.9 261,620.6 277,619.6 293,617.4 309,616.7 325,615.7 341,614.5 357,612.4 373,611.4 389,609.9 405,609.9 421,609.9 437,610.5 453,611.0 469,611.0 485,611.5 501,612.0 517,612.5 533,613.5 549,614.0 565,614.0 581,613.5 597,613.0 613,613.0 629,613.0 645,613.5 661,613.8 677,614.8 693,616.0 709,617.0 725,618.9 741,621.7 757,625.8 773,628.6 789,632.5 805,636.9 821,639.7 837,641.6 853,642.8 869,642.8 885,642.8 901,642.8 917,642.2 933,640.5 949,639.3 965,638.4 981,636.9 997,635.9 1013,635.4 1029,634.3 1045,633.3 1061,632.3 1077,631.1 1093,630.4 1109,629.9 1125,630.4 1141,631.5 1157,633.5 1173,635.9 1189,638.4 1205,640.8 1221,641.9 1237,644.4 1253,645.8" fill="none" stroke="#ff0000" stroke-width="2"/>
<rect x="2" y="603" width="2" height="106" fill="#fff"/>
<rect x="4" y="603" width="1" height="106" fill="#000"/>
<rect x="1618" y="604" width="2" height="1" fill="#000"/>
<rect x="1618" y="622" width="2" height="1" fill="#000"/>
<rect x="1618" y="708" width="2" height="1" fill="#000"/>
<rect x="1618" y="713" width="2" height="1" fill="#000"/>
<rect x="1618" y="732" width="2" height="1" fill="#000"/>
<rect x="1618" y="761" width="2" height="1" fill="#000"/>
<rect x="1618" y="795" width="2" height="1" fill="#000"/>
<rect x="1618" y="809" width="2" height="1" fill="#000"/>
<line x1="6" x2="1617" y1="732.5" y2="732.5" stroke="#000" stroke-width="1" stroke-dasharray="3 3"/>
<line x1="6" x2="1617" y1="761.5" y2="761.5" stroke="#000" stroke-width="1" stroke-dasharray="3 3"/>
<line x1="6" x2="1617" y1="795.5" y2="795.5" stroke="#000" stroke-width="1" stroke-dasharray="3 3"/>
<polyline points="5,765.7 21,766.0 37,767.0 53,756.9 69,755.2 85,752.9 101,754.2 117,757.3 133,757.6 149,753.7 165,756.0 181,764.8 197,765.7 213,759.9 229,760.0 245,757.3 261,754.2 277,752.9 293,754.9 309,757.8 325,759.9 341,756.9 357,758.8 373,756.0 389,759.8 405,757.8 421,761.7 437,761.7 453,758.8 469,758.8 485,757.8 501,761.7 517,758.8 533,759.8 549,756.0 565,756.6 581,756.9 597,756.9 613,761.4 629,761.7 645,759.8 661,760.9 677,765.5 693,766.7 709,766.7 725,780.0 741,776.0 757,773.6 773,777.5 789,778.9 805,765.0 821,761.7 837,764.8 853,759.8 869,760.9 885,765.7 901,765.7 917,764.8 933,767.0 949,762.1 965,761.8 981,760.9 997,761.8 1013,759.8 1029,762.1 1045,763.8 1061,763.8 1077,765.3 1093,766.0 1109,768.4 1125,769.9 1141,778.4 1157,782.7 1173,780.0 1189,772.5 1205,772.0 1221,768.4 1237,766.0 1253,765.7" fill="none" stroke="#1e90ff" stroke-width="2"/>
<rect x="2" y="712" width="2" height="98" fill="#fff"/>
<rect x="4" y="712" width="1" height="98" fill="#000"/>
<rect x="5" y="811" width="1" height="3" fill="#000"/>
<rect x="69" y="811" width="1" height="3" fill="#000"/>
<rect x="133" y="811" width="1" height="3" fill="#000"/>
<rect x="197" y="811" width="1" height="3" fill="#000"/>
<rect x="261" y="811" width="1" height="3" fill="#000"/>
<rect x="325" y="811" width="1" height="3" fill="#000"/>
<rect x="389" y="811" width="1" height="3" fill="#000"/>
<rect x="453" y="811" width="1" height="3" fill="#000"/>
<rect x="517" y="811" width="1" height="3" fill="#000"/>
<rect x="581" y="811" width="1" height="3" fill="#000"/>
<rect x="645" y="811" width="1" height="3" fill="#000"/>
<rect x="709" y="811" width="1" height="3" fill="#000"/>
<rect x="773" y="811" width="1" height="3" fill="#000"/>
<rect x="837" y="811" width="1" height="3" fill="#000"/>
<rect x="901" y="811" width="1" height="3" fill="#000"/>
<rect x="965" y="811" width="1" height="3" fill="#000"/>
<rect x="1029" y="811" width="1" height="3" fill="#000"/>
<rect x="1093" y="811" width="1" height="3" fill="#000"/>
<rect x="1157" y="811" width="1" height="3" fill="#000"/>
<rect x="1221" y="811" width="1" height="3" fill="#000"/>
</g>
<text transform="translate(8.6,615) scale(0.917,1)" font-size="10.2" fill="#000" stroke="#000" stroke-width="0.25" stroke-linejoin="round">MACD(12,26,9) -0.007563 -0.007737</text>
<text transform="translate(8.6,724) scale(0.917,1)" font-size="10.2" fill="#000" stroke="#000" stroke-width="0.25" stroke-linejoin="round">RSI(14) 45.1058</text>
<text transform="translate(1620.6,613) scale(0.897,1)" font-size="10.2" fill="#000" stroke="#000" stroke-width="0.25" stroke-linejoin="round">0.006121</text>
<text transform="translate(1620.6,626) scale(0.917,1)" font-size="10.2" fill="#000" stroke="#000" stroke-width="0.25" stroke-linejoin="round">0.00</text>
<text transform="translate(1620.6,706) scale(0.902,1)" font-size="10.2" fill="#000" stroke="#000" stroke-width="0.25" stroke-linejoin="round">-0.028128</text>
<text transform="translate(1620.6,722) scale(0.917,1)" font-size="10.2" fill="#000" stroke="#000" stroke-width="0.25" stroke-linejoin="round">100</text>
<text transform="translate(1619.8,736) scale(0.917,1)" font-size="10.2" fill="#000" stroke="#000" stroke-width="0.25" stroke-linejoin="round">80</text>
<text transform="translate(1619.8,765) scale(0.917,1)" font-size="10.2" fill="#000" stroke="#000" stroke-width="0.25" stroke-linejoin="round">50</text>
<text transform="translate(1620.6,799) scale(0.917,1)" font-size="10.2" fill="#000" stroke="#000" stroke-width="0.25" stroke-linejoin="round">15</text>
<text transform="translate(1620.6,807) scale(0.917,1)" font-size="10.2" fill="#000" stroke="#000" stroke-width="0.25" stroke-linejoin="round">0</text>
<text transform="translate(4,823) scale(0.897,1)" font-size="10.2" fill="#000" stroke="#000" stroke-width="0.25" stroke-linejoin="round">16 Jan 2023</text>
<text transform="translate(68,823) scale(0.897,1)" font-size="10.2" fill="#000" stroke="#000" stroke-width="0.25" stroke-linejoin="round">17 Jan 04:00</text>
<text transform="translate(132,823) scale(0.897,1)" font-size="10.2" fill="#000" stroke="#000" stroke-width="0.25" stroke-linejoin="round">17 Jan 20:00</text>
<text transform="translate(196,823) scale(0.897,1)" font-size="10.2" fill="#000" stroke="#000" stroke-width="0.25" stroke-linejoin="round">18 Jan 12:00</text>
<text transform="translate(260,823) scale(0.897,1)" font-size="10.2" fill="#000" stroke="#000" stroke-width="0.25" stroke-linejoin="round">19 Jan 04:00</text>
<text transform="translate(324,823) scale(0.897,1)" font-size="10.2" fill="#000" stroke="#000" stroke-width="0.25" stroke-linejoin="round">19 Jan 20:00</text>
<text transform="translate(388,823) scale(0.897,1)" font-size="10.2" fill="#000" stroke="#000" stroke-width="0.25" stroke-linejoin="round">20 Jan 12:00</text>
<text transform="translate(452,823) scale(0.897,1)" font-size="10.2" fill="#000" stroke="#000" stroke-width="0.25" stroke-linejoin="round">23 Jan 08:00</text>
<text transform="translate(516,823) scale(0.897,1)" font-size="10.2" fill="#000" stroke="#000" stroke-width="0.25" stroke-linejoin="round">24 Jan 00:00</text>
<text transform="translate(580,823) scale(0.897,1)" font-size="10.2" fill="#000" stroke="#000" stroke-width="0.25" stroke-linejoin="round">24 Jan 16:00</text>
<text transform="translate(644,823) scale(0.897,1)" font-size="10.2" fill="#000" stroke="#000" stroke-width="0.25" stroke-linejoin="round">25 Jan 08:00</text>
<text transform="translate(708,823) scale(0.897,1)" font-size="10.2" fill="#000" stroke="#000" stroke-width="0.25" stroke-linejoin="round">26 Jan 00:00</text>
<text transform="translate(772,823) scale(0.897,1)" font-size="10.2" fill="#000" stroke="#000" stroke-width="0.25" stroke-linejoin="round">26 Jan 16:00</text>
<text transform="translate(836,823) scale(0.897,1)" font-size="10.2" fill="#000" stroke="#000" stroke-width="0.25" stroke-linejoin="round">27 Jan 08:00</text>
<text transform="translate(900,823) scale(0.897,1)" font-size="10.2" fill="#000" stroke="#000" stroke-width="0.25" stroke-linejoin="round">30 Jan 04:00</text>
<text transform="translate(964,823) scale(0.897,1)" font-size="10.2" fill="#000" stroke="#000" stroke-width="0.25" stroke-linejoin="round">30 Jan 20:00</text>
<text transform="translate(1028,823) scale(0.897,1)" font-size="10.2" fill="#000" stroke="#000" stroke-width="0.25" stroke-linejoin="round">31 Jan 12:00</text>
<text transform="translate(1092,823) scale(0.897,1)" font-size="10.2" fill="#000" stroke="#000" stroke-width="0.25" stroke-linejoin="round">1 Feb 04:00</text>
<text transform="translate(1156,823) scale(0.897,1)" font-size="10.2" fill="#000" stroke="#000" stroke-width="0.25" stroke-linejoin="round">1 Feb 20:00</text>
<text transform="translate(1220,823) scale(0.897,1)" font-size="10.2" fill="#000" stroke="#000" stroke-width="0.25" stroke-linejoin="round">2 Feb 12:00</text>
<line x1="1236.5" y1="521.5" x2="1330" y2="433" stroke="#ed1c24" stroke-width="3"/>
<path d="M1339.5 424L1320.5 429.5L1332.5 442.5z" fill="#ed1c24"/>
</svg>
</body></html>
